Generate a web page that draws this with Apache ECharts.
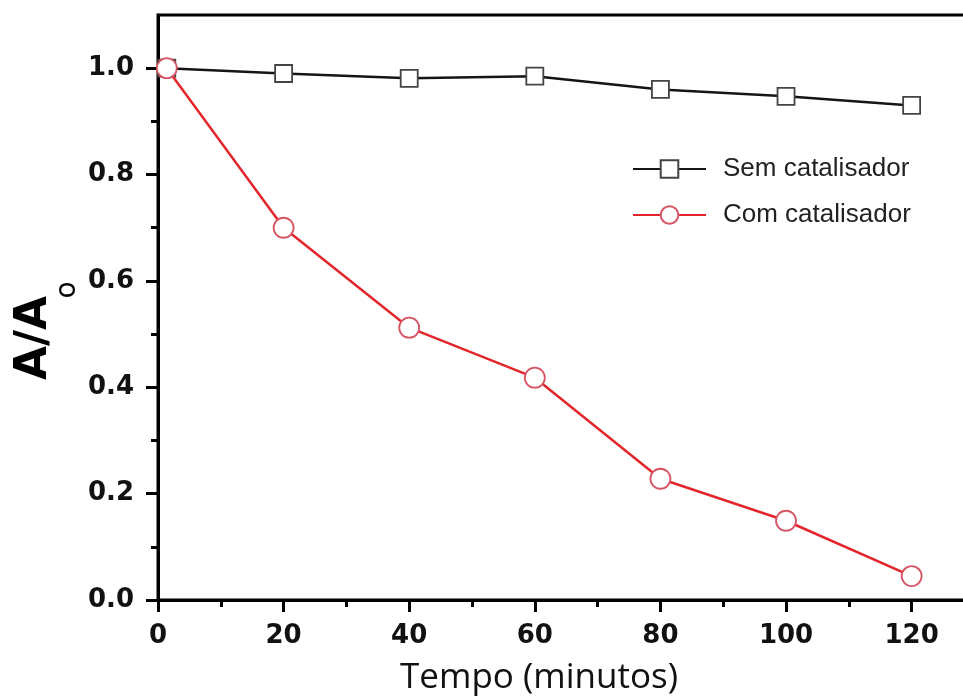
<!DOCTYPE html>
<html>
<head>
<meta charset="utf-8">
<script src="https://cdn.jsdelivr.net/npm/echarts@6/dist/echarts.min.js"></script>
<style>
  html, body { margin: 0; padding: 0; background: #fff; }
  #chart { width: 963px; height: 697px; }
</style>
</head>
<body>
<div id="chart"></div>
<script>
// data
var tempo = [1.4, 20, 40, 60, 80, 100, 120];
var semCatalisador = [1.0, 0.99, 0.981, 0.985, 0.96, 0.947, 0.93];
var comCatalisador = [1.0, 0.70, 0.512, 0.418, 0.228, 0.149, 0.045];
var seriesNames = ["Sem catalisador", "Com catalisador"];
var xTicks = [0, 20, 40, 60, 80, 100, 120];
var yTicks = [0, 0.2, 0.4, 0.6, 0.8, 1.0];

function pairs(xs, ys) {
  return xs.map(function (x, i) { return [x, ys[i]]; });
}

var myChart = echarts.init(document.getElementById("chart"));

var tickFont = {
  fontFamily: "DejaVu Sans",
  fontWeight: "bold",
  fontSize: 26,
  color: "#111",
};
var tickStyle = { color: "#000", width: 3 };

var option = {
  backgroundColor: "#fff",
  animation: false,
  grid: {
    left: 158,
    top: 15,
    width: 829,
    bottom: 97,
    outerBoundsMode: "none",
    containLabel: false,
    show: true,
    borderColor: "#000",
    borderWidth: 3,
  },
  legend: {
    data: seriesNames,
    orient: "vertical",
    left: 627,
    top: 151,
    itemWidth: 73,
    itemHeight: 22,
    itemGap: 20,
    textStyle: {
      fontFamily: "Liberation Sans, Arial",
      fontSize: 26,
      color: "#222",
      lineHeight: 26,
      padding: [0, 0, 0, 12],
    },
  },
  xAxis: {
    type: "value",
    min: 0,
    max: 132,
    interval: 20,
    axisLine: { lineStyle: { color: "#000", width: 3 } },
    axisTick: { inside: false, length: 12, lineStyle: tickStyle, customValues: xTicks },
    minorTick: { show: true, splitNumber: 2, length: 7, lineStyle: tickStyle },
    splitLine: { show: false },
    axisLabel: Object.assign({ margin: 23, customValues: xTicks }, tickFont),
  },
  yAxis: {
    type: "value",
    min: 0,
    max: 1.1,
    interval: 0.2,
    axisLine: { lineStyle: { color: "#000", width: 3 } },
    axisTick: { inside: false, length: 12, lineStyle: tickStyle, customValues: yTicks },
    minorTick: { show: true, splitNumber: 2, length: 7, lineStyle: tickStyle },
    splitLine: { show: false },
    axisLabel: Object.assign({
      margin: 24,
      customValues: yTicks,
      formatter: function (v) { return v.toFixed(1); },
    }, tickFont),
  },
  graphic: [
    {
      type: "text",
      x: 539,
      y: 678,
      style: {
        text: "Tempo (minutos)",
        align: "center",
        verticalAlign: "middle",
        fontFamily: "Open Sans",
        fontSize: 35,
        fill: "#111",
      },
    },
    {
      type: "text",
      x: 35,
      y: 338,
      rotation: Math.PI / 2,
      style: {
        text: "A/A",
        align: "center",
        verticalAlign: "middle",
        fontFamily: "DejaVu Sans",
        fontWeight: "bold",
        fontSize: 44,
        fill: "#000",
      },
    },
    {
      type: "text",
      x: 68,
      y: 290,
      rotation: Math.PI / 2,
      style: {
        text: "o",
        align: "center",
        verticalAlign: "middle",
        fontFamily: "DejaVu Sans",
        fontSize: 28,
        fill: "#000",
      },
    },
  ],
  series: [
    {
      name: seriesNames[0],
      type: "line",
      data: pairs(tempo, semCatalisador),
      symbol: "rect",
      symbolSize: 17,
      lineStyle: { color: "#151515", width: 2.5 },
      itemStyle: { color: "#fff", borderColor: "#444", borderWidth: 1.8 },
      z: 2,
    },
    {
      name: seriesNames[1],
      type: "line",
      data: pairs(tempo, comCatalisador),
      symbol: "circle",
      symbolSize: 20,
      lineStyle: { color: "#e3262b", width: 2.5 },
      itemStyle: { color: "#fff", borderColor: "#d65565", borderWidth: 1.8 },
      z: 3,
    },
  ],
};

option && myChart.setOption(option);
</script>
</body>
</html>
